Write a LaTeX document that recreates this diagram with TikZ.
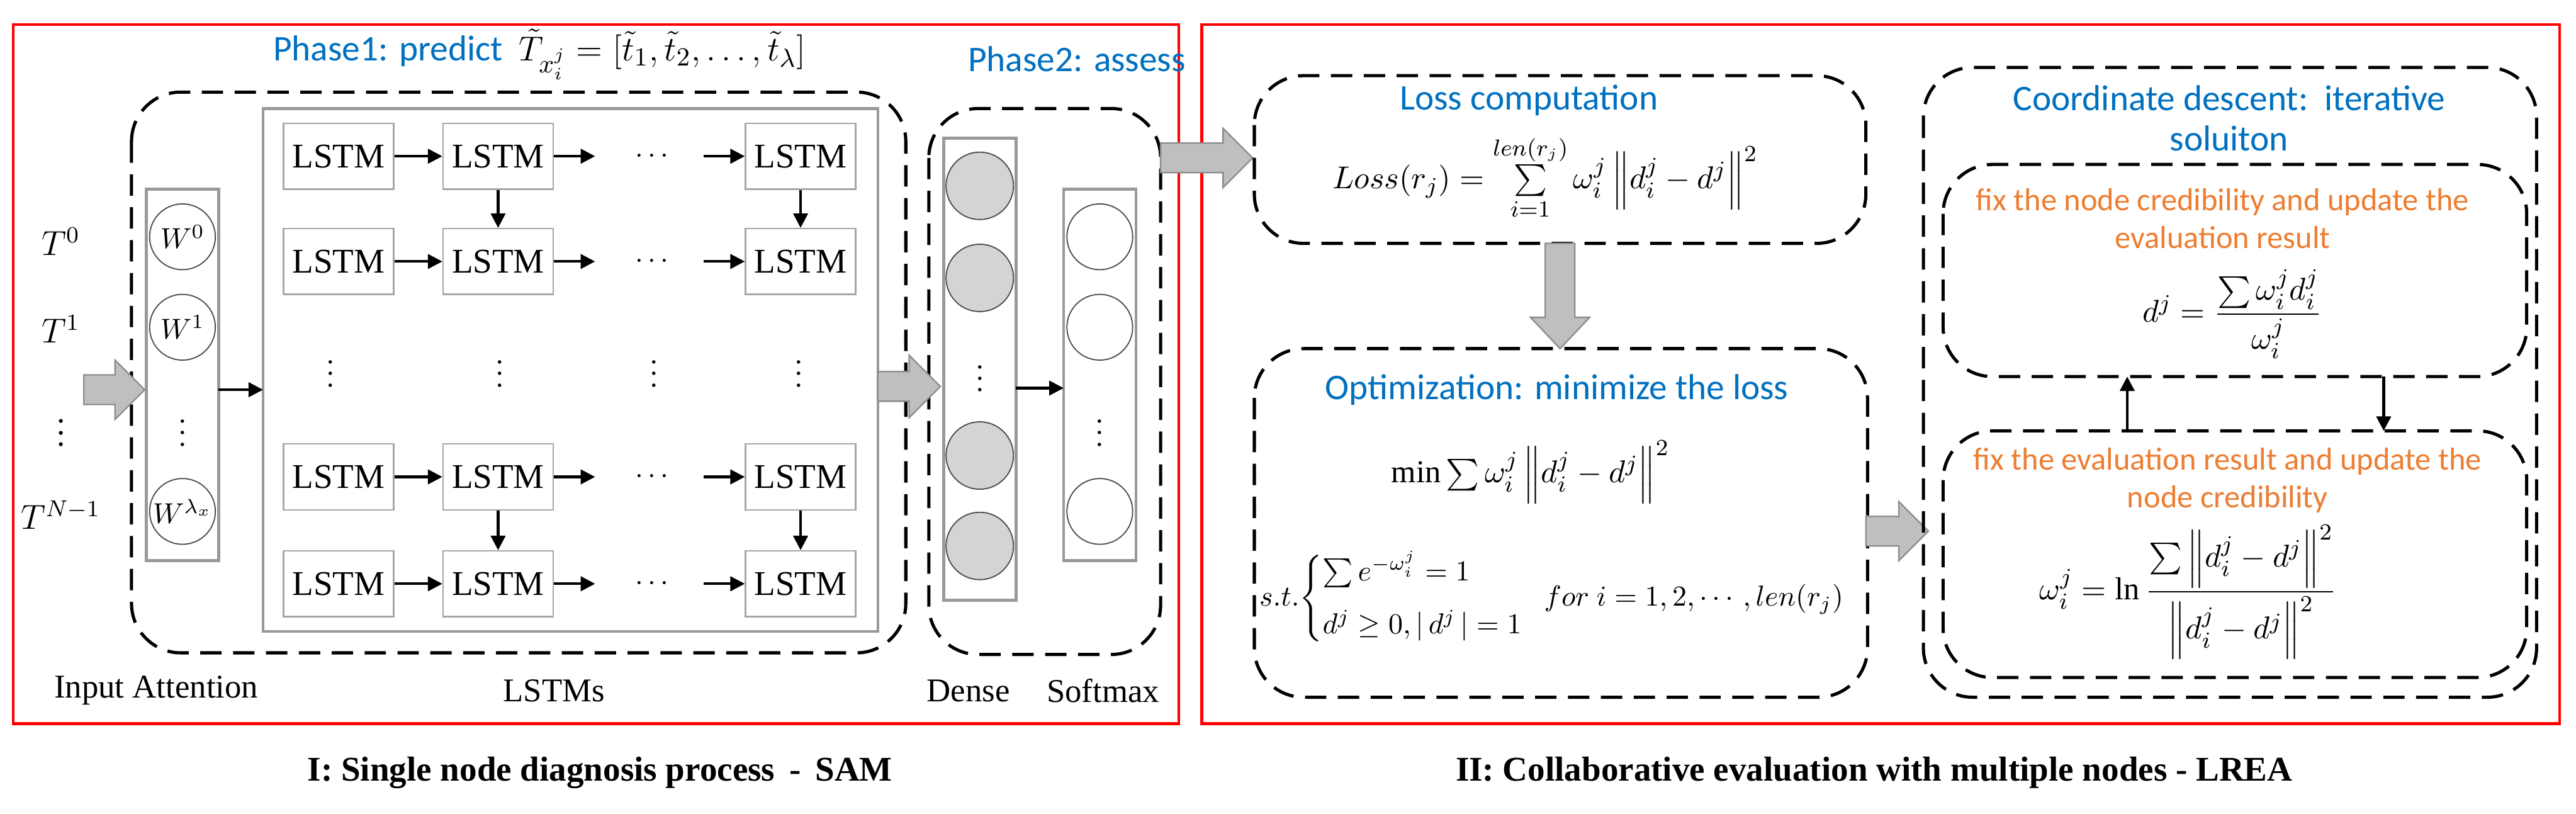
\documentclass[tikz,border=0pt]{standalone}
\usepackage{amsmath}
\usepackage{fontspec}
\setmainfont{Liberation Serif}
\newfontfamily\carlito{Carlito}
\usetikzlibrary{arrows.meta}
\definecolor{tblue}{HTML}{0070C0}
\definecolor{torange}{HTML}{ED7D31}
\definecolor{agray}{HTML}{BFBFBF}
\begin{document}
\begin{tikzpicture}[x=0.02cm,y=-0.02cm,
  dbox/.style={draw,line width=1.1pt,dash pattern=on 0.26cm off 0.14cm,rounded corners=0.6cm},
  gbox/.style={draw=black!40,line width=1pt},
  cell/.style={draw=black!35,line width=0.5pt,minimum width=1.34cm,minimum height=0.8cm,inner sep=0pt,font=\fontsize{12}{12}\selectfont},
  circ/.style={draw=black!70,line width=0.4pt,circle,minimum size=0.8cm,inner sep=0pt},
  arr/.style={-{Triangle[length=5pt,width=5pt]},line width=0.9pt},
  blk/.style={fill=agray,draw=black!45,line width=0.5pt},
  ttl/.style={text=tblue,font=\carlito\fontsize{12.5}{14}\selectfont},
  ora/.style={text=torange,font=\carlito\fontsize{11}{13}\selectfont,align=center},
  lab/.style={font=\fontsize{11.5}{12}\selectfont},
  frm/.style={font=\fontsize{11}{13}\selectfont},
  captxt/.style={font=\bfseries\fontsize{12}{12}\selectfont}]
\useasboundingbox (0,0) rectangle (1567,495);
% red frames
\draw[red,line width=1pt] (8,15) rectangle (717,440);
\draw[red,line width=1pt] (731,15) rectangle (1557,440);
\node[captxt] (capA) at (365,470) {I: Single node diagnosis process \,-\, SAM};
\node[captxt] (capB) at (1140,470) {II: Collaborative evaluation with multiple nodes - LREA};
% Phase titles
\node[ttl,anchor=west] (ph1) at (160,33) {Phase1: predict\ \ \textcolor{black}{$\tilde{T}_{x_i^j}=[\tilde{t}_1,\tilde{t}_2,\ldots,\tilde{t}_\lambda]$}};
\node[ttl] (ph2) at (655,36) {Phase2: assess};
% dashed boxes left
\draw[dbox] (80,56) rectangle (551,397);
\draw[dbox] (565,66) rectangle (706,398);
% LSTM gray box
\draw[gbox] (160,66) rectangle (534,384);
% attention column
\draw[gbox] (89,115) rectangle (133,341);
\node[circ] (w0) at (111,144) {$W^0$};
\node[circ] (w1) at (111,199) {$W^1$};
\node[circ] (w2) at (111,311) {$W^{\lambda_x}$};
\node (wd) at (111,258) {$\vdots$};
\node[lab] (t0) at (37,147) {$T^0$};
\node[lab] (t1) at (37,200) {$T^1$};
\node[lab] (td) at (37,258) {$\vdots$};
\node[lab] (tn) at (37,313) {$T^{N-1}$};
% input block arrow
\draw[blk] (51,228) -- (70,228) -- (70,219) -- (88,237) -- (70,255) -- (70,246) -- (51,246) -- cycle;
\coordinate (aa) at (133,237); \coordinate (lb) at (160,237);
\draw[arr] (aa) -- (lb);
% LSTM cells
\foreach \r/\y in {1/95,2/159,3/290,4/355}{
  \node[cell] (c\r1) at (206,\y) {LSTM};
  \node[cell] (c\r2) at (303,\y) {LSTM};
  \node[cell] (c\r3) at (487,\y) {LSTM};
  \node (d\r) at (398,\y) {$\cdots$};
  \coordinate (p\r) at (362,\y); \coordinate (q\r) at (428,\y);
  \draw[arr] (c\r1) -- (c\r2);
  \draw[arr] (c\r2) -- (p\r);
  \draw[arr] (q\r) -- (c\r3);
}
\foreach \x in {201,304,398,486}{\node (v\x) at (\x,222) {$\vdots$};}
\draw[arr] (c12) -- (c22); \draw[arr] (c13) -- (c23);
\draw[arr] (c32) -- (c42); \draw[arr] (c33) -- (c43);
% block arrow LSTM->dense
\draw[blk] (534,226) -- (553,226) -- (553,216) -- (572,235) -- (553,254) -- (553,244) -- (534,244) -- cycle;
% dense column
\draw[gbox] (574,84) rectangle (618,365);
\foreach \i/\y in {1/113,2/169,3/277,4/332}{\node[circ,fill=black!17,minimum size=0.82cm] (g\i) at (596,\y) {};}
\node (gd) at (596,225) {$\vdots$};
% softmax
\draw[gbox] (647,115) rectangle (691,341);
\foreach \i/\y in {1/144,2/199,3/311}{\node[circ] (s\i) at (669,\y) {};}
\node (sd) at (669,258) {$\vdots$};
\coordinate (da) at (618,236); \coordinate (sb) at (647,236);
\draw[arr] (da) -- (sb);
% bottom labels
\node[lab] (l1) at (95,420) {Input Attention};
\node[lab] (l2) at (337,420) {LSTMs};
\node[lab] (l3) at (589,420) {Dense};
\node[lab] (l4) at (671,420) {Softmax};
% block arrow to right panel
\draw[blk] (706,87) -- (744,87) -- (744,78) -- (762,96) -- (744,114) -- (744,105) -- (706,105) -- cycle;
% Loss box
\draw[dbox] (763,46) rectangle (1135,148);
\node[ttl] (lt) at (930,61) {Loss computation};
\node[frm] (lf) at (940,108) {$Loss(r_j)=\sum\limits_{i=1}^{len(r_j)}\omega_i^j\left\|d_i^j-d^j\right\|^2$};
% down block arrow
\draw[blk] (940,148) -- (958,148) -- (958,193) -- (967,193) -- (949,212) -- (931,193) -- (940,193) -- cycle;
% Optimization box
\draw[dbox] (763,212) rectangle (1136,424);
\node[ttl] (ot) at (947,237) {Optimization: minimize the loss};
\node[frm] (of) at (931,287) {$\min\sum\omega_i^j\left\|d_i^j-d^j\right\|^2$};
\node[font=\fontsize{10}{12}\selectfont,anchor=west,inner sep=1pt] (oc) at (764,364) {$s.t.\!\begin{cases}\sum e^{-\omega_i^j}=1\\[4pt] d^j\ge 0,|\,d^j\,|=1\end{cases}\!\!\! for\ i=1,2,\cdots,len(r_j)$};
% block arrow to coordinate
\draw[blk] (1135,314) -- (1155,314) -- (1155,305) -- (1173,323) -- (1155,341) -- (1155,332) -- (1135,332) -- cycle;
% coordinate box
\draw[dbox] (1170,41) rectangle (1543,424);
\node[ttl,align=center] (ct) at (1356,72) {Coordinate descent:\ \ iterative\\ soluiton};
\draw[dbox] (1182,100) rectangle (1537,229);
\node[ora] (u1) at (1352,133) {fix the node credibility and update the\\ evaluation result};
\node[frm] (uf) at (1358,191) {$d^j=\dfrac{\sum\omega_i^j d_i^j}{\omega_i^j}$};
\draw[dbox] (1182,262) rectangle (1537,412);
\node[ora] (b1) at (1355,292) {fix the evaluation result and update the\\ node credibility};
\node[frm] (bf) at (1331,360) {$\omega_i^j=\ln\dfrac{\sum\left\|d_i^j-d^j\right\|^2}{\left\|d_i^j-d^j\right\|^2}$};
\coordinate (ua) at (1294,262); \coordinate (ub) at (1294,229);
\coordinate (da2) at (1450,229); \coordinate (db2) at (1450,262);
\draw[arr] (ua) -- (ub);
\draw[arr] (da2) -- (db2);
\end{tikzpicture}
\end{document}
